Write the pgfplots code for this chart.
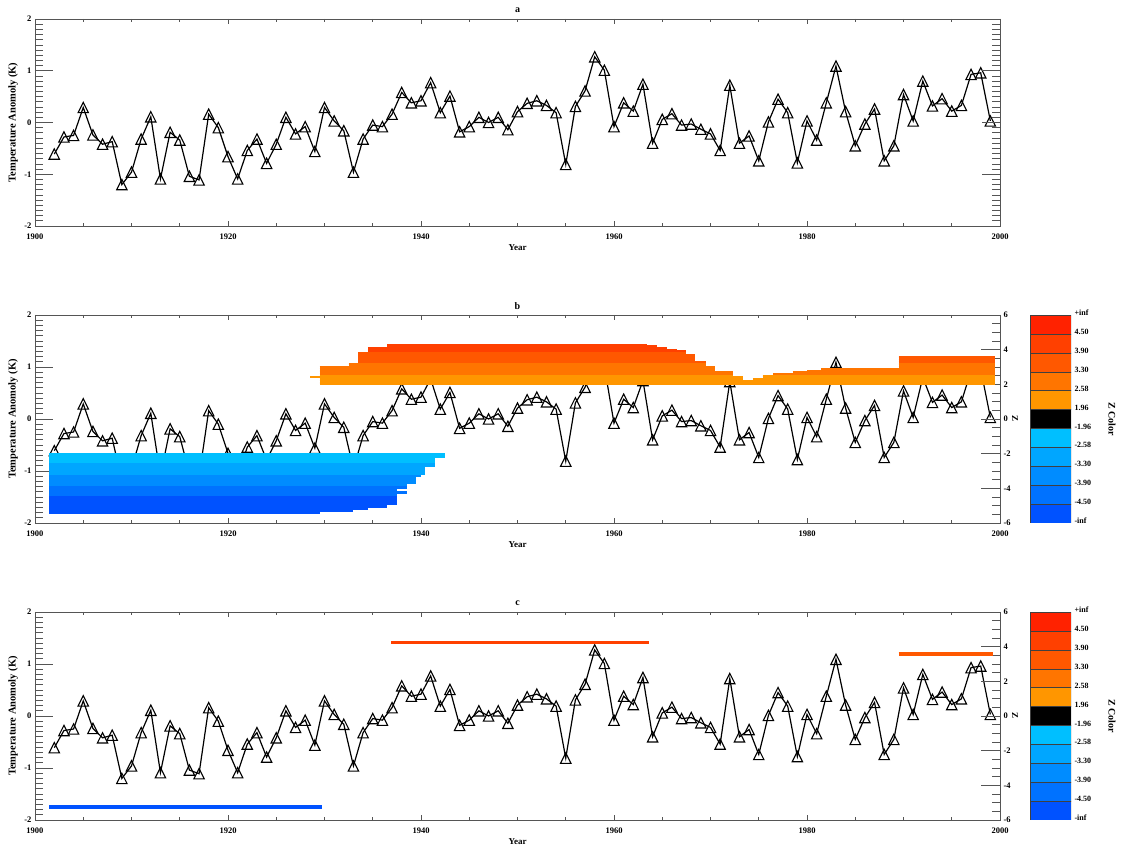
\documentclass[border=0pt]{standalone}
\usepackage{fontspec}
\setmainfont{Liberation Serif}
\usepackage{pgfplots}
\pgfplotsset{compat=1.18}
\usepackage{pgfplotstable}

\definecolor{cbA}{HTML}{FF2200}
\definecolor{cbB}{HTML}{FF4000}
\definecolor{cbC}{HTML}{FF5800}
\definecolor{cbD}{HTML}{FF7500}
\definecolor{cbE}{HTML}{FF9600}
\definecolor{cbF}{HTML}{00BFFF}
\definecolor{cbG}{HTML}{00A6FF}
\definecolor{cbH}{HTML}{008CFF}
\definecolor{cbI}{HTML}{0072FF}
\definecolor{cbJ}{HTML}{0052FF}
\definecolor{axgray}{HTML}{555555}

\pgfdeclareplotmark{itri}{%
  \pgfpathmoveto{\pgfqpoint{-\pgfplotmarksize}{-\pgfplotmarksize}}%
  \pgfpathlineto{\pgfqpoint{0pt}{\pgfplotmarksize}}%
  \pgfpathlineto{\pgfqpoint{\pgfplotmarksize}{-\pgfplotmarksize}}%
  \pgfpathclose\pgfusepathqstroke}

\pgfplotstableread{
year T
1902 -0.61
1903 -0.28
1904 -0.25
1905 0.29
1906 -0.24
1907 -0.42
1908 -0.37
1909 -1.20
1910 -0.96
1911 -0.32
1912 0.11
1913 -1.09
1914 -0.19
1915 -0.34
1916 -1.04
1917 -1.11
1918 0.16
1919 -0.10
1920 -0.66
1921 -1.09
1922 -0.54
1923 -0.32
1924 -0.79
1925 -0.42
1926 0.10
1927 -0.22
1928 -0.08
1929 -0.56
1930 0.29
1931 0.03
1932 -0.16
1933 -0.96
1934 -0.32
1935 -0.05
1936 -0.08
1937 0.16
1938 0.58
1939 0.38
1940 0.42
1941 0.77
1942 0.19
1943 0.51
1944 -0.18
1945 -0.08
1946 0.10
1947 0.00
1948 0.10
1949 -0.14
1950 0.21
1951 0.37
1952 0.42
1953 0.33
1954 0.19
1955 -0.81
1956 0.31
1957 0.61
1958 1.27
1959 1.01
1960 -0.08
1961 0.38
1962 0.22
1963 0.74
1964 -0.40
1965 0.06
1966 0.17
1967 -0.05
1968 -0.03
1969 -0.13
1970 -0.22
1971 -0.54
1972 0.72
1973 -0.40
1974 -0.26
1975 -0.74
1976 0.01
1977 0.45
1978 0.19
1979 -0.78
1980 0.03
1981 -0.34
1982 0.38
1983 1.09
1984 0.21
1985 -0.45
1986 -0.03
1987 0.26
1988 -0.74
1989 -0.45
1990 0.54
1991 0.03
1992 0.80
1993 0.32
1994 0.46
1995 0.22
1996 0.33
1997 0.93
1998 0.96
1999 0.03
}\temps

\pgfplotsset{
  common/.style={
    scale only axis, width=965pt, height=207pt, anchor=south west,
    xmin=1900, xmax=2000,
    axis line style={axgray, line width=0.8pt},
    tick style={axgray, line width=0.7pt},
    tick align=inside,
    /pgf/number format/assume math mode=true,
    /pgf/number format/1000 sep={},
    ticklabel style={font=\fontsize{8.5}{10}\selectfont\bfseries},
  },
  tbase/.style={common,
    ymin=-2, ymax=2,
    xtick={1900,1920,...,2000}, minor x tick num=3,
    major tick length=5pt, minor tick length=3pt,
    xtick pos=both, xticklabel pos=lower,
    ytick={-2,-1,0,1,2}, ytick style={draw=none}, yticklabel pos=left,
    xticklabel style={yshift=-4pt},
    xlabel={Year}, ylabel={Temperature Anomoly (K)},
    every axis x label/.style={at={(0.5,-0.106)}, anchor=center, font=\fontsize{9}{10}\selectfont\bfseries},
    every axis y label/.style={at={(-0.0228,0.5)}, rotate=90, anchor=center, font=\fontsize{10.5}{12}\selectfont\bfseries},
    every axis title/.style={at={(0.5,1.0435)}, anchor=center, font=\fontsize{10}{12}\selectfont\bfseries},
  },
  ylong/.style={common, hide x axis,
    ymin=-2, ymax=2, ytick={-2,-1,0,1,2}, yticklabels={}, minor y tick num=9,
    major tick length=18pt, minor tick length=8pt,
  },
  zaxis/.style={common, hide x axis,
    ymin=-6, ymax=6, ytick={-6,-4,...,6}, minor y tick num=3,
    major tick length=19pt, minor tick length=8pt,
    ytick pos=right, yticklabel pos=right,
    ylabel={Z},
    every axis y label/.style={at={(1.0155,0.5)}, rotate=-90, anchor=center, font=\fontsize{9}{10}\selectfont\bfseries},
  },
  cbar/.style={
    scale only axis, width=41pt, height=208pt, anchor=south west,
    xmin=-0.5, xmax=0.5, ymin=0, ymax=11,
    ybar stacked, bar width=41pt,
    axis line style={draw=none}, tick style={draw=none},
    xtick=\empty, ytick={0,...,11},
    yticklabels={-inf,-4.50,-3.90,-3.30,-2.58,-1.96,1.96,2.58,3.30,3.90,4.50,+inf},
    yticklabel pos=right,
    yticklabel style={font=\fontsize{8}{9}\selectfont\bfseries, yshift=2pt},
    ylabel={Z Color},
    every axis y label/.style={at={(2.0,0.5)}, rotate=-90, anchor=center, font=\fontsize{10}{12}\selectfont\bfseries},
  },
  dataline/.style={black, line width=1.2pt, mark=itri, mark size=5.2pt,
    mark options={solid, line width=1.1pt}},
  seg/.style={line width=1.9pt, line cap=butt, unbounded coords=jump, mark=none, forget plot},
}

\begin{document}
\begin{tikzpicture}
\useasboundingbox (0,0) rectangle (1125pt,848pt);

% ---------------- panel a ----------------
\begin{axis}[tbase, at={(35pt,622pt)}, title={a}]
\addplot[dataline] table[x=year,y=T]{\temps};
\end{axis}
\begin{axis}[ylong, at={(35pt,622pt)}, ytick pos=both]
\end{axis}

% ---------------- panel b ----------------
\begin{axis}[tbase, at={(35pt,325pt)}, height=208pt, title={b}]
\addplot[dataline] table[x=year,y=T]{\temps};
\end{axis}
\begin{axis}[ylong, at={(35pt,325pt)}, height=208pt, ytick pos=left]
\end{axis}
\begin{axis}[zaxis, at={(35pt,325pt)}, height=208pt]
% orange bands
\addplot[seg, cbE] coordinates {
(1929.5,2.0) (1999.5,2.0) (1950,nan)
(1929.5,2.1) (1999.5,2.1) (1950,nan)
(1929.5,2.2) (1999.5,2.2) (1950,nan)
(1929.5,2.3) (1973.4,2.3) (1950,nan) (1974.4,2.3) (1999.5,2.3) (1950,nan)
(1928.5,2.4) (1973.4,2.4) (1950,nan) (1975.4,2.4) (1999.5,2.4) (1950,nan)
(1929.5,2.5) (1972.3,2.5) (1950,nan) (1975.4,2.5) (1999.5,2.5)
};
\addplot[seg, cbD] coordinates {
(1929.5,2.6) (1972.3,2.6) (1950,nan) (1976.5,2.6) (1999.5,2.6) (1950,nan)
(1929.5,2.7) (1972.3,2.7) (1950,nan) (1978.5,2.7) (1999.5,2.7) (1950,nan)
(1929.5,2.8) (1970.5,2.8) (1950,nan) (1980.0,2.8) (1999.5,2.8) (1950,nan)
(1929.5,2.9) (1970.5,2.9) (1950,nan) (1981.5,2.9) (1999.5,2.9) (1950,nan)
(1929.5,3.0) (1970.5,3.0) (1950,nan) (1989.5,3.0) (1999.5,3.0) (1950,nan)
(1932.5,3.1) (1969.5,3.1) (1950,nan) (1989.5,3.1) (1999.5,3.1) (1950,nan)
(1932.5,3.2) (1969.5,3.2) (1950,nan) (1989.5,3.2) (1999.5,3.2)
};
\addplot[seg, cbC] coordinates {
(1933.5,3.3) (1969.5,3.3) (1950,nan) (1989.5,3.3) (1999.5,3.3) (1950,nan)
(1933.5,3.4) (1968.4,3.4) (1950,nan) (1989.5,3.4) (1999.5,3.4) (1950,nan)
(1933.5,3.5) (1968.4,3.5) (1950,nan) (1989.5,3.5) (1999.5,3.5) (1950,nan)
(1933.5,3.6) (1968.4,3.6) (1950,nan) (1989.5,3.6) (1999.5,3.6) (1950,nan)
(1933.5,3.7) (1968.4,3.7) (1950,nan)
(1933.5,3.8) (1967.5,3.8)
};
\addplot[seg, cbB] coordinates {
(1934.5,3.9) (1967.5,3.9) (1950,nan)
(1934.5,4.0) (1966.5,4.0) (1950,nan)
(1934.5,4.1) (1965.5,4.1) (1950,nan)
(1936.5,4.2) (1964.5,4.2) (1950,nan)
(1936.5,4.3) (1963.4,4.3)
};
% blue bands
\addplot[seg, cbF] coordinates {
(1901.5,-2.0) (1942.5,-2.0) (1920,nan)
(1901.5,-2.1) (1942.5,-2.1) (1920,nan)
(1901.5,-2.2) (1942.5,-2.2) (1920,nan)
(1901.5,-2.3) (1941.5,-2.3) (1920,nan)
(1901.5,-2.4) (1941.5,-2.4) (1920,nan)
(1901.5,-2.5) (1941.5,-2.5)
};
\addplot[seg, cbG] coordinates {
(1901.5,-2.6) (1941.5,-2.6) (1920,nan)
(1901.5,-2.7) (1941.5,-2.7) (1920,nan)
(1901.5,-2.8) (1940.4,-2.8) (1920,nan)
(1901.5,-2.9) (1940.4,-2.9) (1920,nan)
(1901.5,-3.0) (1940.4,-3.0) (1920,nan)
(1901.5,-3.1) (1940.4,-3.1) (1920,nan)
(1901.5,-3.2) (1940.4,-3.2)
};
\addplot[seg, cbH] coordinates {
(1901.5,-3.3) (1940.0,-3.3) (1920,nan)
(1901.5,-3.4) (1939.5,-3.4) (1920,nan)
(1901.5,-3.5) (1939.5,-3.5) (1920,nan)
(1901.5,-3.6) (1939.5,-3.6) (1920,nan)
(1901.5,-3.7) (1939.5,-3.7) (1920,nan)
(1901.5,-3.8) (1938.5,-3.8)
};
\addplot[seg, cbI] coordinates {
(1901.5,-3.9) (1938.5,-3.9) (1920,nan)
(1901.5,-4.0) (1938.5,-4.0) (1920,nan)
(1901.5,-4.1) (1937.5,-4.1) (1920,nan)
(1901.5,-4.2) (1938.5,-4.2) (1920,nan)
(1901.5,-4.3) (1938.5,-4.3) (1920,nan)
(1901.5,-4.4) (1937.5,-4.4)
};
\addplot[seg, cbJ] coordinates {
(1901.5,-4.5) (1937.5,-4.5) (1920,nan)
(1901.5,-4.6) (1937.5,-4.6) (1920,nan)
(1901.5,-4.7) (1937.5,-4.7) (1920,nan)
(1901.5,-4.8) (1937.5,-4.8) (1920,nan)
(1901.5,-4.9) (1937.5,-4.9) (1920,nan)
(1901.5,-5.0) (1936.5,-5.0) (1920,nan)
(1901.5,-5.1) (1936.5,-5.1) (1920,nan)
(1901.5,-5.2) (1934.5,-5.2) (1920,nan)
(1901.5,-5.3) (1933.0,-5.3) (1920,nan)
(1901.5,-5.4) (1929.5,-5.4)
};
\end{axis}
\begin{axis}[cbar, at={(1030pt,325pt)}]
\addplot[fill=cbJ, draw=black!75] coordinates {(0,1)};
\addplot[fill=cbI, draw=black!75] coordinates {(0,1)};
\addplot[fill=cbH, draw=black!75] coordinates {(0,1)};
\addplot[fill=cbG, draw=black!75] coordinates {(0,1)};
\addplot[fill=cbF, draw=black!75] coordinates {(0,1)};
\addplot[fill=black, draw=black!75] coordinates {(0,1)};
\addplot[fill=cbE, draw=black!75] coordinates {(0,1)};
\addplot[fill=cbD, draw=black!75] coordinates {(0,1)};
\addplot[fill=cbC, draw=black!75] coordinates {(0,1)};
\addplot[fill=cbB, draw=black!75] coordinates {(0,1)};
\addplot[fill=cbA, draw=black!75] coordinates {(0,1)};
\end{axis}

% ---------------- panel c ----------------
\begin{axis}[tbase, at={(35pt,28pt)}, height=208pt, title={c}]
\addplot[dataline] table[x=year,y=T]{\temps};
\end{axis}
\begin{axis}[ylong, at={(35pt,28pt)}, height=208pt, ytick pos=left]
\end{axis}
\begin{axis}[zaxis, at={(35pt,28pt)}, height=208pt]
\addplot[line width=3.5pt, line cap=butt, cbJ, mark=none] coordinates {(1901.5,-5.25) (1929.7,-5.25)};
\addplot[line width=3.5pt, line cap=butt, cbB, mark=none] coordinates {(1936.9,4.24) (1963.6,4.24)};
\addplot[line width=3.5pt, line cap=butt, cbC, mark=none] coordinates {(1989.5,3.57) (1999.3,3.57)};
\end{axis}
\begin{axis}[cbar, at={(1030pt,28pt)}]
\addplot[fill=cbJ, draw=black!75] coordinates {(0,1)};
\addplot[fill=cbI, draw=black!75] coordinates {(0,1)};
\addplot[fill=cbH, draw=black!75] coordinates {(0,1)};
\addplot[fill=cbG, draw=black!75] coordinates {(0,1)};
\addplot[fill=cbF, draw=black!75] coordinates {(0,1)};
\addplot[fill=black, draw=black!75] coordinates {(0,1)};
\addplot[fill=cbE, draw=black!75] coordinates {(0,1)};
\addplot[fill=cbD, draw=black!75] coordinates {(0,1)};
\addplot[fill=cbC, draw=black!75] coordinates {(0,1)};
\addplot[fill=cbB, draw=black!75] coordinates {(0,1)};
\addplot[fill=cbA, draw=black!75] coordinates {(0,1)};
\end{axis}
\end{tikzpicture}
\end{document}
